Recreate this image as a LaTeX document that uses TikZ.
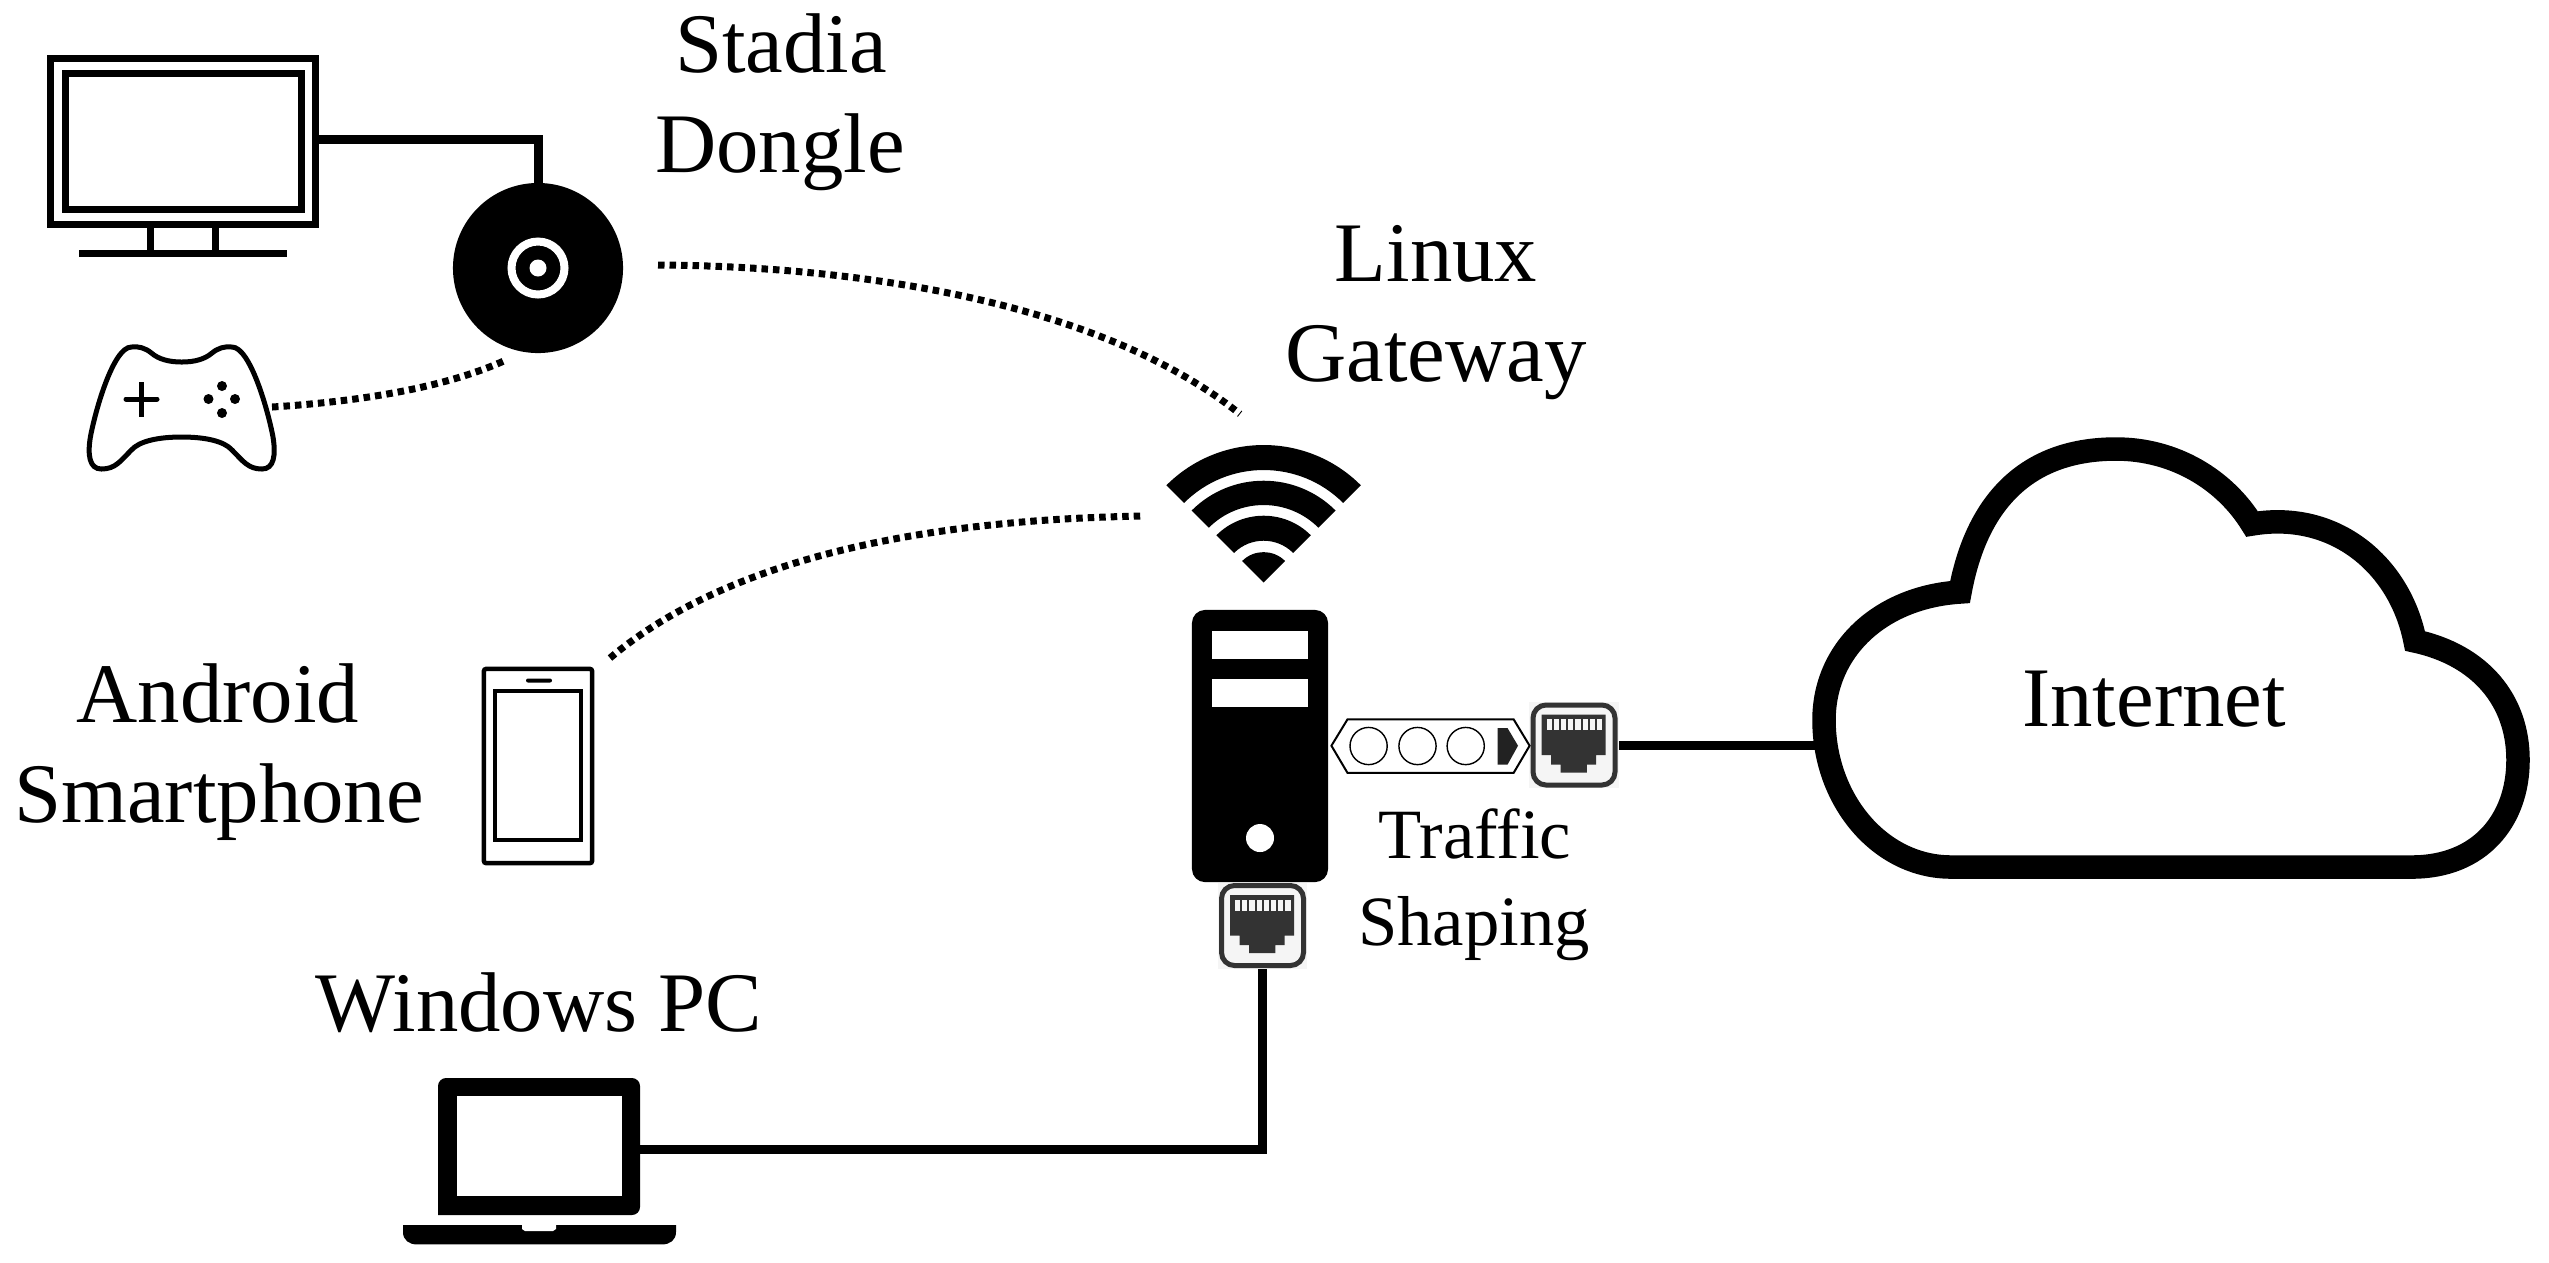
\documentclass[tikz,border=0pt]{standalone}
\usepackage{fontspec}
\setmainfont{Liberation Serif}
\tikzset{
  box/.style={draw=black,fill=white,inner sep=0pt,outer sep=0pt,line width=#1},
  solidblack/.style={fill=black,inner sep=0pt,outer sep=0pt},
  wire/.style={draw=black,line width=0.09cm},
  radio/.style={draw=black,line width=0.07cm,dash pattern=on 0.065cm off 0.05cm},
  biglabel/.style={anchor=base,inner sep=0pt,font=\fontsize{24.1pt}{28pt}\selectfont},
  smalllabel/.style={anchor=base,inner sep=0pt,font=\fontsize{20.1pt}{24pt}\selectfont},
  rjbox/.style={fill=rjbg,inner sep=0pt,outer sep=0pt,minimum width=0.89cm,minimum height=0.86cm},
  rj45/.pic={
    \draw[draw=rjdark,line width=0.05cm,rounded corners=0.13cm] (-41,-40) rectangle (41,40);
    \fill[rjdark] (-32.5,-30.4) -- (31.5,-30.4) -- (31.5,10) -- (22,10) -- (22,19.6) -- (12.8,19.6) -- (12.8,27.5) -- (-13.3,27.5) -- (-13.3,19.6) -- (-23,19.6) -- (-23,10) -- (-32.5,10) -- cycle;
    \foreach \i in {0,...,7} {\fill[rjbg] ({-27.5+7.2*\i},-26) rectangle ({-22.3+7.2*\i},-15);}
  }
}
\definecolor{rjdark}{HTML}{333333}
\definecolor{rjbg}{HTML}{F5F5F5}
\definecolor{shaperdark}{HTML}{222222}
\begin{document}
\begin{tikzpicture}[x=0.01cm,y=0.01cm,yscale=-1]
\useasboundingbox (0,0) rectangle (2549,1262);

% named positions
\node[box=0.07cm,minimum width=2.65cm,minimum height=1.66cm] (monitor) at (183,141.5) {};
\node[solidblack,circle,minimum size=1.7cm] (dongle) at (538,268) {};
\node[solidblack,rounded corners=0.13cm,minimum width=1.36cm,minimum height=2.72cm] (tower) at (1260,746) {};
\node[rjbox] (rjA) at (1574,745) {};
\node[rjbox] (rjB) at (1262.5,925.5) {};
\coordinate (monOut) at (319,139.5);
\coordinate (lapOut) at (640,1149);
\coordinate (rjAout) at (1619,745.5);
\coordinate (cloudIn) at (1824,745.5);
\coordinate (padOut) at (272,407);
\coordinate (dongleLow) at (506,360);
\coordinate (dongleOut) at (658,265);
\coordinate (wifiTop) at (1240,414);
\coordinate (phoneOut) at (610,658);
\coordinate (wifiLeft) at (1145,516);

% wired connectors
\draw[wire] (monOut) -| (dongle.north);
\draw[wire] (lapOut) -| (rjB.south);
\draw[wire] (rjAout) -- (cloudIn);

% dotted radio links
\draw[radio] (padOut) .. controls (350,402) and (440,390) .. (dongleLow);
\draw[radio] (dongleOut) .. controls (845,266) and (1095,298) .. (wifiTop);
\draw[radio] (phoneOut) .. controls (717,568) and (895,520) .. (wifiLeft);

% monitor
\node[box=0.07cm,minimum width=2.36cm,minimum height=1.36cm] (screen) at (183.5,141.5) {};
\fill (147,228) rectangle (154,250);
\fill (212,228) rectangle (219,250);
\fill (79,250) rectangle (287,257);

% dongle detail
\draw[white,line width=0.08cm] (dongle.center) circle (26.5);
\fill[white] (dongle.center) circle (8.5);

% gamepad
\draw[line width=0.05cm,fill=white]
  (181.7,362) .. controls (195,362) and (205,359) .. (212,353)
  .. controls (218,348) and (225,346) .. (232,347)
  .. controls (250,347) and (268,410) .. (273,437)
  .. controls (276,455) and (274,469) .. (262,469)
  .. controls (248,469) and (243,461) .. (232,450)
  .. controls (224,441) and (205,437) .. (181.7,437)
  .. controls (158.4,437) and (139.4,441) .. (131.4,450)
  .. controls (120.4,461) and (115.4,469) .. (101.4,469)
  .. controls (89.4,469) and (87.4,455) .. (90.4,437)
  .. controls (95.4,410) and (113.4,347) .. (131.4,347)
  .. controls (138.4,346) and (145.4,348) .. (151.4,353)
  .. controls (158.4,359) and (168.4,362) .. (181.7,362) -- cycle;
\draw[line width=0.05cm,line cap=round] (126,399) -- (157,399);
\draw[line width=0.05cm] (141,382) -- (141,417);
\fill (222,386) circle (5);
\fill (222,413) circle (5);
\fill (208.5,399) circle (5);
\fill (235,399) circle (5);

% phone
\node[box=0.045cm,rounded corners=0.02cm,minimum width=1.08cm,minimum height=1.94cm] (phone) at (538,766) {};
\node[box=0.045cm,minimum width=0.86cm,minimum height=1.49cm] (phonescreen) at (538,765.5) {};
\fill[rounded corners=0.02cm] (526,678.5) rectangle (552,682.5);

% wifi
\begin{scope}[shift={(1263.6,582.5)}]
  \foreach \ro/\ri in {137.5/112.5,101.8/77.5,66.8/41.8} {
    \fill (-135:\ro) arc[start angle=-135,end angle=-45,radius=\ro]
      -- (-45:\ri) arc[start angle=-45,end angle=-135,radius=\ri] -- cycle;
  }
  \fill (0,0) -- (-135:30.4) arc[start angle=-135,end angle=-45,radius=30.4] -- cycle;
\end{scope}

% tower details
\fill[white] (1212,631) rectangle (1308,658.6);
\fill[white] (1212,679) rectangle (1308,707);
\fill[white] (1260,838) circle (14);

% traffic shaper
\draw[line width=0.02cm,fill=white] (1331.4,745.7) -- (1347.5,719.3) -- (1513.6,719.3) -- (1529.6,745.7) -- (1513.6,772.9) -- (1347.5,772.9) -- cycle;
\draw[line width=0.014cm] (1368.6,746) circle (18.6);
\draw[line width=0.014cm] (1417.5,746) circle (18.6);
\draw[line width=0.014cm] (1465.7,746) circle (18.6);
\fill[shaperdark] (1497.5,728) -- (1507.5,728) -- (1518,745.7) -- (1507.5,764.6) -- (1497.5,764.6) -- cycle;

% jacks
\pic[transform shape] at (rjA) {rj45};
\pic[transform shape] at (rjB) {rj45};

% laptop
\fill[rounded corners=0.08cm] (438,1215) -- (438,1078) -- (640,1078) -- (640,1215) [sharp corners] -- cycle;
\fill[white] (457,1096) rectangle (622,1196);
\fill (403,1225) -- (676,1225) -- (676,1232) .. controls (676,1240) and (670,1244.4) .. (662,1244.4) -- (417,1244.4) .. controls (409,1244.4) and (403,1240) .. (403,1232) -- cycle;
\fill[white] (522,1225) -- (556,1225) -- (556,1229) -- (553,1231) -- (525,1231) -- (522,1229) -- cycle;

% cloud
\draw[line width=0.235cm,fill=white,line join=miter]
  (1951,867) .. controls (1880,867) and (1824,800) .. (1824,720)
  .. controls (1824,650) and (1880,597) .. (1960,592)
  .. controls (1975,510) and (2020,449) .. (2116,449)
  .. controls (2175,449) and (2225,480) .. (2252,524)
  .. controls (2335,510) and (2400,565) .. (2415,641)
  .. controls (2480,655) and (2518,700) .. (2518,760)
  .. controls (2518,820) and (2480,867) .. (2412,867) -- cycle;

% labels
\node[biglabel] (stadia) at (781,72) {Stadia};
\node[biglabel] (donglelabel) at (780,172) {Dongle};
\node[biglabel] (linux) at (1436,281) {Linux};
\node[biglabel] (gateway) at (1436,381) {Gateway};
\node[biglabel] (android) at (218,722) {Android};
\node[biglabel] (smartphone) at (219,822) {Smartphone};
\node[biglabel] (windows) at (539,1031) {Windows PC};
\node[smalllabel] (traffic) at (1475,858.6) {Traffic};
\node[smalllabel] (shaping) at (1474,945.7) {Shaping};
\node[biglabel] (internet) at (2154,726.7) {Internet};
\end{tikzpicture}
\end{document}
